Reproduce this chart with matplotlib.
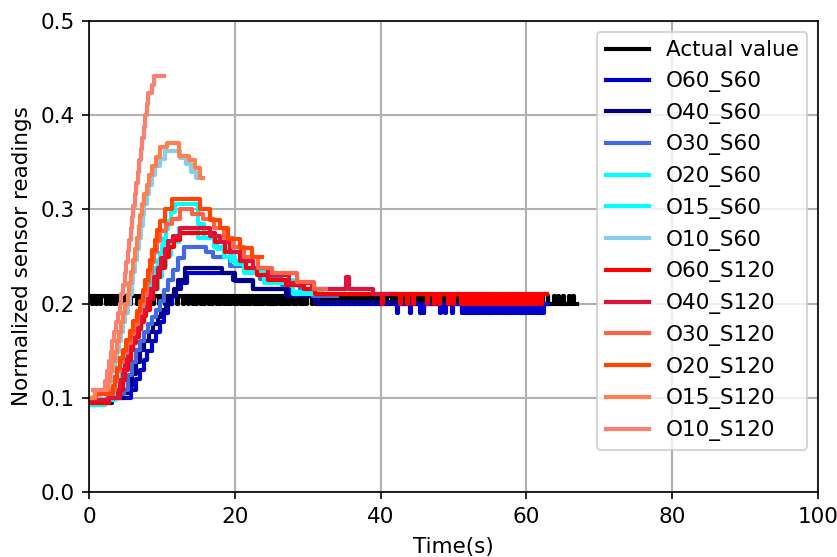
import numpy as np
import matplotlib
matplotlib.use("Agg")
import matplotlib.pyplot as plt

# ---------------- data ----------------
# Actual value: quantised reading that flickers between two levels
actual_hi = 0.2085
actual_lo = 0.200
actual_base = [(0.0, actual_hi), (45.0, actual_lo), (67.0, actual_lo)]
actual_dips = [0.4, 1.0, 1.5, 2.3, 2.9, 3.4, 4.0, 4.9, 5.6, 6.6, 7.3, 8.0, 8.8, 9.6,
               10.4, 11.3, 12.1, 12.9, 13.6, 14.2, 14.7, 15.3, 15.8, 16.4, 16.9,
               17.5, 18.0, 18.5, 19.0, 19.4, 19.9, 20.3, 20.8, 21.2, 21.7, 22.1,
               22.6, 23.0, 23.5, 23.9, 24.4, 24.8, 25.3, 25.7, 26.2, 26.6, 27.1,
               27.5, 28.0, 28.4, 28.9, 29.3, 29.8, 30.6, 31.2, 31.8, 32.5, 33.1,
               33.8, 34.4, 35.0, 35.7, 36.3, 37.0, 37.6, 38.3, 38.9, 39.5, 40.2,
               40.8, 41.5, 42.1, 42.8, 43.4, 44.0, 44.7]
actual_spikes = [45.4, 46.0, 46.7, 47.4, 48.1, 48.8, 49.5, 50.2, 50.9, 51.6, 52.3,
                 53.0, 53.7, 54.4, 55.1, 55.8, 56.5, 57.2, 57.9, 58.6, 59.3, 60.0,
                 60.7, 61.4, 62.2, 62.9, 63.8, 64.3, 65.0, 65.8, 66.4]

# sensor series: (time, value) samples held until the next sample
o60_s60 = [(0.3, 0.094), (3.2, 0.100), (5.8, 0.108), (6.4, 0.120), (7.0, 0.130),
           (7.5, 0.140), (8.0, 0.150), (8.6, 0.160), (9.2, 0.170), (9.8, 0.180),
           (10.3, 0.190), (10.8, 0.200), (11.4, 0.208), (12.0, 0.215), (12.6, 0.222),
           (13.4, 0.232), (19.8, 0.225), (22.5, 0.216), (27.5, 0.208), (31.4, 0.200),
           (63.0, 0.200)]
o60_s60_dips = [42.2, 44.0, 45.4, 45.9, 48.1, 48.8, 49.8, 51.1, 51.5, 51.9, 52.3,
                52.7, 53.1, 53.5, 53.9, 54.3, 54.7, 55.1, 55.5, 55.9, 56.3, 56.7,
                57.1, 57.5, 57.9, 58.3, 58.7, 59.1, 59.5, 59.9, 60.3, 60.7, 61.1,
                61.5, 61.9, 62.3]
o40_s60 = [(0.3, 0.094), (3.0, 0.100), (4.7, 0.105), (5.3, 0.112), (5.9, 0.125),
           (6.5, 0.138), (7.0, 0.151), (7.6, 0.160), (8.2, 0.170), (8.8, 0.178),
           (9.4, 0.186), (9.9, 0.193), (10.5, 0.200), (11.0, 0.208), (11.6, 0.216),
           (12.2, 0.225), (13.2, 0.238), (18.2, 0.232), (20.0, 0.224), (22.5, 0.216),
           (27.0, 0.208), (31.0, 0.202), (45.0, 0.202)]
o30_s60 = [(0.3, 0.094), (2.6, 0.100), (4.2, 0.104), (4.8, 0.108), (5.4, 0.124),
           (5.9, 0.138), (6.4, 0.151), (7.0, 0.160), (7.6, 0.170), (8.1, 0.178),
           (8.7, 0.186), (9.2, 0.193), (9.7, 0.203), (10.3, 0.214), (10.9, 0.225),
           (11.5, 0.236), (12.2, 0.248), (13.0, 0.260), (16.0, 0.255), (17.0, 0.250),
           (19.3, 0.240), (21.6, 0.234), (23.5, 0.226), (26.5, 0.220), (29.0, 0.214),
           (30.7, 0.208), (34.0, 0.208)]
o20_s60 = [(0.3, 0.092), (2.2, 0.098), (3.6, 0.103), (4.0, 0.108), (4.4, 0.119),
           (4.8, 0.130), (5.2, 0.140), (5.5, 0.151), (5.9, 0.158), (6.2, 0.165),
           (6.6, 0.173), (6.9, 0.180), (7.3, 0.187), (7.6, 0.193), (8.2, 0.205),
           (8.8, 0.216), (9.4, 0.228), (10.0, 0.240), (10.6, 0.252), (11.3, 0.265),
           (12.3, 0.280), (15.0, 0.270), (17.5, 0.258), (19.5, 0.245), (21.2, 0.235),
           (24.0, 0.225), (28.0, 0.212), (32.0, 0.212)]
o15_s60 = [(0.3, 0.092), (2.2, 0.098), (3.4, 0.103), (3.8, 0.108), (4.2, 0.119),
           (4.5, 0.130), (4.9, 0.140), (5.2, 0.151), (5.6, 0.158), (5.9, 0.165),
           (6.3, 0.173), (6.6, 0.180), (7.0, 0.187), (7.3, 0.193), (7.6, 0.200),
           (7.9, 0.207), (8.2, 0.215), (8.5, 0.222), (8.8, 0.230), (9.1, 0.238),
           (9.4, 0.246), (9.7, 0.254), (10.0, 0.262), (10.3, 0.270), (10.6, 0.279),
           (10.9, 0.288), (11.3, 0.297), (11.8, 0.306), (15.0, 0.285), (15.8, 0.270),
           (17.2, 0.260), (18.5, 0.250), (20.0, 0.242), (21.2, 0.232), (24.0, 0.222),
           (28.0, 0.210), (32.0, 0.210)]
o10_s60 = [(0.3, 0.100), (1.5, 0.105), (2.9, 0.118), (3.2, 0.128), (3.5, 0.139),
           (3.8, 0.149), (4.1, 0.160), (4.4, 0.170), (4.7, 0.180), (5.0, 0.190),
           (5.3, 0.200), (5.6, 0.210), (5.85, 0.222), (6.1, 0.234), (6.35, 0.246),
           (6.6, 0.258), (6.85, 0.270), (7.1, 0.282), (7.35, 0.294), (7.6, 0.306),
           (7.9, 0.316), (8.2, 0.326), (8.6, 0.336), (9.1, 0.346), (9.7, 0.354),
           (10.4, 0.362), (12.5, 0.355), (13.3, 0.348), (14.0, 0.340), (14.7, 0.333),
           (15.3, 0.333)]
o60_s120 = [(0.3, 0.094), (2.8, 0.100), (4.3, 0.108), (4.6, 0.119), (4.9, 0.130),
            (5.3, 0.140), (5.8, 0.151), (6.1, 0.158), (6.5, 0.165), (6.8, 0.173),
            (7.2, 0.180), (7.5, 0.187), (7.8, 0.193), (8.3, 0.205), (8.8, 0.216),
            (9.3, 0.228), (9.8, 0.238), (10.4, 0.250), (11.0, 0.260), (11.7, 0.268),
            (12.5, 0.275), (17.3, 0.265), (18.7, 0.255), (20.7, 0.245), (21.6, 0.238),
            (23.0, 0.230), (24.5, 0.225), (27.0, 0.220), (29.5, 0.215), (31.0, 0.210),
            (62.8, 0.210)]
o60_s120_dips = [40.2, 42.7, 43.6, 44.5, 46.4, 47.3, 48.0, 49.2, 49.9, 51.0, 51.5,
                 52.0, 52.5, 53.0, 53.5, 54.0, 54.5, 55.0, 55.5, 56.0, 56.5, 57.0,
                 57.5, 58.0, 58.5, 59.0, 59.5, 60.0, 60.5, 61.0, 61.5, 62.0]
o40_s120 = [(0.3, 0.098), (2.6, 0.100), (4.0, 0.108), (4.3, 0.119), (4.6, 0.130),
            (5.0, 0.140), (5.4, 0.151), (5.7, 0.158), (6.1, 0.165), (6.4, 0.173),
            (6.8, 0.180), (7.1, 0.187), (7.4, 0.193), (7.9, 0.205), (8.4, 0.216),
            (8.9, 0.228), (9.4, 0.238), (9.9, 0.248), (10.4, 0.258), (10.9, 0.266),
            (11.5, 0.272), (12.5, 0.280), (16.6, 0.272), (18.0, 0.265), (19.3, 0.255),
            (21.0, 0.245), (22.5, 0.238), (24.5, 0.230), (27.5, 0.222), (30.6, 0.215),
            (35.3, 0.228), (35.6, 0.215), (39.0, 0.210), (41.0, 0.210)]
o30_s120 = [(0.3, 0.100), (0.8, 0.106), (2.9, 0.108), (3.5, 0.118), (3.9, 0.128),
            (4.3, 0.138), (4.7, 0.148), (5.2, 0.158), (5.7, 0.168), (6.2, 0.178),
            (6.7, 0.190), (7.1, 0.200), (7.5, 0.210), (7.9, 0.222), (8.25, 0.233),
            (8.6, 0.244), (8.95, 0.255), (9.3, 0.266), (9.8, 0.277), (10.5, 0.284),
            (11.4, 0.290), (12.5, 0.300), (14.1, 0.295), (15.7, 0.290), (17.1, 0.280),
            (18.5, 0.270), (19.8, 0.260), (21.2, 0.250), (23.2, 0.238), (25.1, 0.232),
            (28.5, 0.223), (30.8, 0.215), (32.5, 0.215)]
o20_s120 = [(0.3, 0.100), (1.0, 0.104), (3.3, 0.112), (3.6, 0.122), (3.9, 0.132),
            (4.25, 0.142), (4.6, 0.151), (5.1, 0.161), (5.6, 0.171), (6.1, 0.181),
            (6.6, 0.192), (7.0, 0.203), (7.4, 0.214), (7.75, 0.225), (8.1, 0.236),
            (8.4, 0.246), (8.7, 0.257), (9.0, 0.267), (9.35, 0.278), (9.7, 0.288),
            (10.4, 0.300), (11.4, 0.311), (15.2, 0.300), (16.6, 0.289), (18.0, 0.280),
            (19.1, 0.269), (20.7, 0.259), (22.3, 0.250), (23.7, 0.250)]
o15_s120 = [(0.3, 0.100), (0.8, 0.108), (2.6, 0.118), (2.9, 0.128), (3.2, 0.139),
            (3.5, 0.149), (3.8, 0.160), (4.1, 0.170), (4.4, 0.180), (4.7, 0.190),
            (5.0, 0.200), (5.3, 0.210), (5.55, 0.222), (5.8, 0.234), (6.05, 0.246),
            (6.3, 0.258), (6.55, 0.270), (6.8, 0.282), (7.05, 0.294), (7.3, 0.306),
            (7.6, 0.316), (7.9, 0.326), (8.25, 0.336), (8.7, 0.346), (9.2, 0.356),
            (9.8, 0.366), (10.7, 0.371), (12.4, 0.357), (13.7, 0.352), (14.6, 0.344),
            (15.2, 0.333), (15.6, 0.333)]
o10_s120 = [(0.5, 0.108), (2.2, 0.118), (2.45, 0.128), (2.7, 0.139), (2.95, 0.149),
            (3.2, 0.160), (3.45, 0.170), (3.7, 0.180), (3.95, 0.190), (4.2, 0.200),
            (4.45, 0.210), (4.7, 0.220), (4.9, 0.232), (5.1, 0.244), (5.3, 0.256),
            (5.5, 0.268), (5.7, 0.280), (5.9, 0.292), (6.1, 0.304), (6.3, 0.316),
            (6.5, 0.328), (6.7, 0.340), (6.9, 0.352), (7.1, 0.364), (7.3, 0.376),
            (7.5, 0.388), (7.7, 0.400), (7.9, 0.412), (8.1, 0.424), (8.7, 0.432),
            (8.9, 0.442), (10.3, 0.442)]

labels = ["Actual value", "O60_S60", "O40_S60", "O30_S60", "O20_S60", "O15_S60",
          "O10_S60", "O60_S120", "O40_S120", "O30_S120", "O20_S120", "O15_S120",
          "O10_S120"]
colors = ["black", "mediumblue", "navy", "royalblue", "cyan", "aqua", "skyblue",
          "red", "crimson", "tomato", "orangered", "coral", "salmon"]


def with_excursions(pairs, times, level, width=0.12):
    """Add short excursions to `level` at the given times to a held series."""
    t = np.array([p[0] for p in pairs])
    v = np.array([p[1] for p in pairs])
    ev = list(zip(t, v))
    for d in times:
        base = v[np.searchsorted(t, d, side="right") - 1]
        ev.append((d, level))
        ev.append((d + width, base))
    ev.sort(key=lambda e: e[0])
    return [e[0] for e in ev], [e[1] for e in ev]


def held(pairs):
    return [p[0] for p in pairs], [p[1] for p in pairs]


# actual value: dips in the first part, spikes in the second
at, av = with_excursions(actual_base, actual_dips, actual_lo)
at2, av2 = with_excursions(list(zip(at, av)), actual_spikes, actual_hi)

series_xy = [
    (at2, av2),
    with_excursions(o60_s60, o60_s60_dips, 0.190),
    held(o40_s60),
    held(o30_s60),
    held(o20_s60),
    held(o15_s60),
    held(o10_s60),
    with_excursions(o60_s120, o60_s120_dips, 0.200),
    held(o40_s120),
    held(o30_s120),
    held(o20_s120),
    held(o15_s120),
    held(o10_s120),
]

# ---------------- figure ----------------
plt.rcParams['font.family'] = ['DejaVu Sans']
plt.rcParams['font.size'] = 10.3
fig = plt.figure(figsize=(837 / 150, 557 / 150), dpi=150)
ax = fig.add_axes([89 / 837, 1 - 492 / 557, (818 - 89) / 837, (492 - 21) / 557])

for (x, y), lab, col in zip(series_xy, labels, colors):
    ax.plot(x, y, drawstyle="steps-post", color=col, lw=2, label=lab)

ax.set_xlim(0, 100)
ax.set_ylim(0, 0.5)
ax.set_xticks([0, 20, 40, 60, 80, 100])
ax.set_yticks([0.0, 0.1, 0.2, 0.3, 0.4, 0.5])
ax.grid(True, color="#b0b0b0", lw=1)
ax.set_xlabel("Time(s)", labelpad=5)
ax.set_ylabel("Normalized sensor readings")
ax.legend(loc="upper right")

fig.savefig("out.png", dpi=150)
